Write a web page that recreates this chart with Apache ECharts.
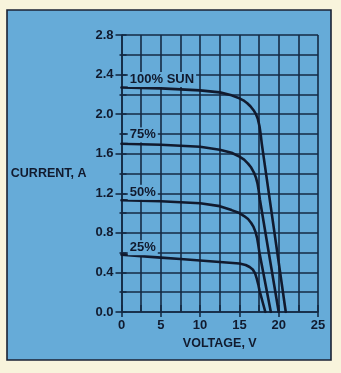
<!DOCTYPE html>
<html><head><meta charset="utf-8">
<script src="https://cdn.jsdelivr.net/npm/echarts@6/dist/echarts.min.js"></script>
<style>html,body{margin:0;padding:0;background:#f8f4dc}#c{width:341px;height:373px}</style>
</head><body><div id="c"></div>
<script>
// ---- data (V, A) ----
const sun100 = [[0,2.27],[2.5,2.265],[5,2.26],[7.5,2.25],[10,2.24],[12.5,2.22],[14,2.19],[15,2.16],[15.5,2.14],[16,2.11],[16.4,2.08],[16.8,2.04],[17.1,2.0],[17.35,1.95],[17.55,1.88],[17.7,1.8],[17.85,1.7],[20.9,0.0]];
const sun75  = [[0,1.70],[2.5,1.695],[5,1.69],[7.5,1.68],[10,1.67],[12.5,1.64],[14,1.61],[15,1.57],[15.6,1.54],[16.1,1.5],[16.5,1.46],[16.85,1.41],[17.1,1.36],[17.3,1.3],[17.45,1.23],[17.6,1.14],[20.0,0.0]];
const sun50  = [[0,1.13],[2.5,1.125],[5,1.12],[7.5,1.11],[10,1.10],[12.5,1.07],[14,1.03],[15,1.0],[15.6,0.97],[16.1,0.94],[16.5,0.9],[16.8,0.86],[17.05,0.81],[17.25,0.75],[17.4,0.68],[17.55,0.6],[19.0,0.0]];
const sun25  = [[0,0.58],[2.5,0.565],[5,0.55],[7.5,0.535],[10,0.52],[12.5,0.505],[15,0.49],[15.8,0.475],[16.3,0.455],[16.7,0.43],[17.0,0.39],[17.2,0.34],[17.4,0.28],[17.55,0.22],[18.3,0.0]];
const curveNames = ['100% SUN','75%','50%','25%'];
const labelAnchors = [[0.8,2.35],[0.8,1.79],[0.8,1.21],[0.8,0.65]];
const xLabelStep = 5;   // labelled volts
const yLabelStep = 0.4; // labelled amps

const ink = '#111a2e';
const gridInk = '#142a44';
const blue = '#66abd8';
const font = 'Liberation Sans';

const chart = echarts.init(document.getElementById('c'));
const lineSeries = [sun100, sun75, sun50, sun25].map((d, i) => ({
  type: 'line', name: curveNames[i], data: d, showSymbol: false,
  smooth: false,
  lineStyle: {color: ink, width: 2.6, join: 'round', cap: 'round'}, z: 5
}));

const panel = {
  type: 'rect', shape: {x: 7, y: 10, width: 324, height: 350},
  style: {fill: blue, stroke: '#1b2233', lineWidth: 1.6}, z: -10, silent: true
};

chart.setOption({
  animation: false,
  backgroundColor: '#f8f4dc',
  graphic: [panel],
  grid: {left: 121.5, top: 35, width: 196.5, height: 277},
  xAxis: [{
    type: 'value', min: 0, max: 25, interval: xLabelStep, position: 'bottom',
    axisLine: {show: true, lineStyle: {color: gridInk, width: 1.6}},
    axisTick: {show: true, length: 5, lineStyle: {color: gridInk, width: 1.6}},
    splitLine: {show: true, lineStyle: {color: gridInk, width: 1.6}},
    minorSplitLine: {show: true, lineStyle: {color: gridInk, width: 1.6}},
    minorTick: {show: false, splitNumber: 2},
    axisLabel: {color: ink, fontFamily: font, fontWeight: 'bold', fontSize: 13, margin: 7},
    name: 'VOLTAGE, V', nameLocation: 'middle', nameGap: 24,
    nameTextStyle: {color: ink, fontFamily: font, fontWeight: 'bold', fontSize: 12.5}
  }, {
    type: 'value', min: 0, max: 25, interval: xLabelStep / 2, position: 'top',
    axisLine: {show: false}, axisLabel: {show: false}, splitLine: {show: false},
    axisTick: {show: true, length: 7, lineStyle: {color: gridInk, width: 1.6}}
  }],
  yAxis: [{
    type: 'value', min: 0, max: 2.8, interval: yLabelStep, position: 'left',
    axisLine: {show: true, lineStyle: {color: gridInk, width: 1.6}},
    axisTick: {show: true, length: 6, lineStyle: {color: gridInk, width: 1.6}},
    minorTick: {show: true, splitNumber: 2, length: 2, lineStyle: {color: gridInk, width: 1.6}},
    splitLine: {show: true, lineStyle: {color: gridInk, width: 1.6}},
    minorSplitLine: {show: true, lineStyle: {color: gridInk, width: 1.6}},
    axisLabel: {color: ink, fontFamily: font, fontWeight: 'bold', fontSize: 13, margin: 8,
      formatter: v => v.toFixed(1)},
    name: 'CURRENT, A', nameLocation: 'middle', nameRotate: 0, nameGap: 35,
    nameTextStyle: {color: ink, fontFamily: font, fontWeight: 'bold', fontSize: 12.5, align: 'right'}
  }, {
    type: 'value', min: 0, max: 2.8, interval: yLabelStep / 2, position: 'right',
    axisLine: {show: false}, axisLabel: {show: false}, splitLine: {show: false},
    axisTick: {show: true, length: 5, lineStyle: {color: gridInk, width: 1.6}}
  }],
  series: lineSeries
});

const texts = curveNames.map((n, i) => {
  const p = chart.convertToPixel({gridIndex: 0}, labelAnchors[i]);
  return {
    type: 'text', x: p[0], y: p[1], z: 20, silent: true,
    style: {text: n, fill: ink, font: 'bold 13px "Liberation Sans"',
      verticalAlign: 'middle', backgroundColor: blue, padding: [1, 2, 1, 2]}
  };
});
chart.setOption({graphic: [panel].concat(texts)});
</script></body></html>
